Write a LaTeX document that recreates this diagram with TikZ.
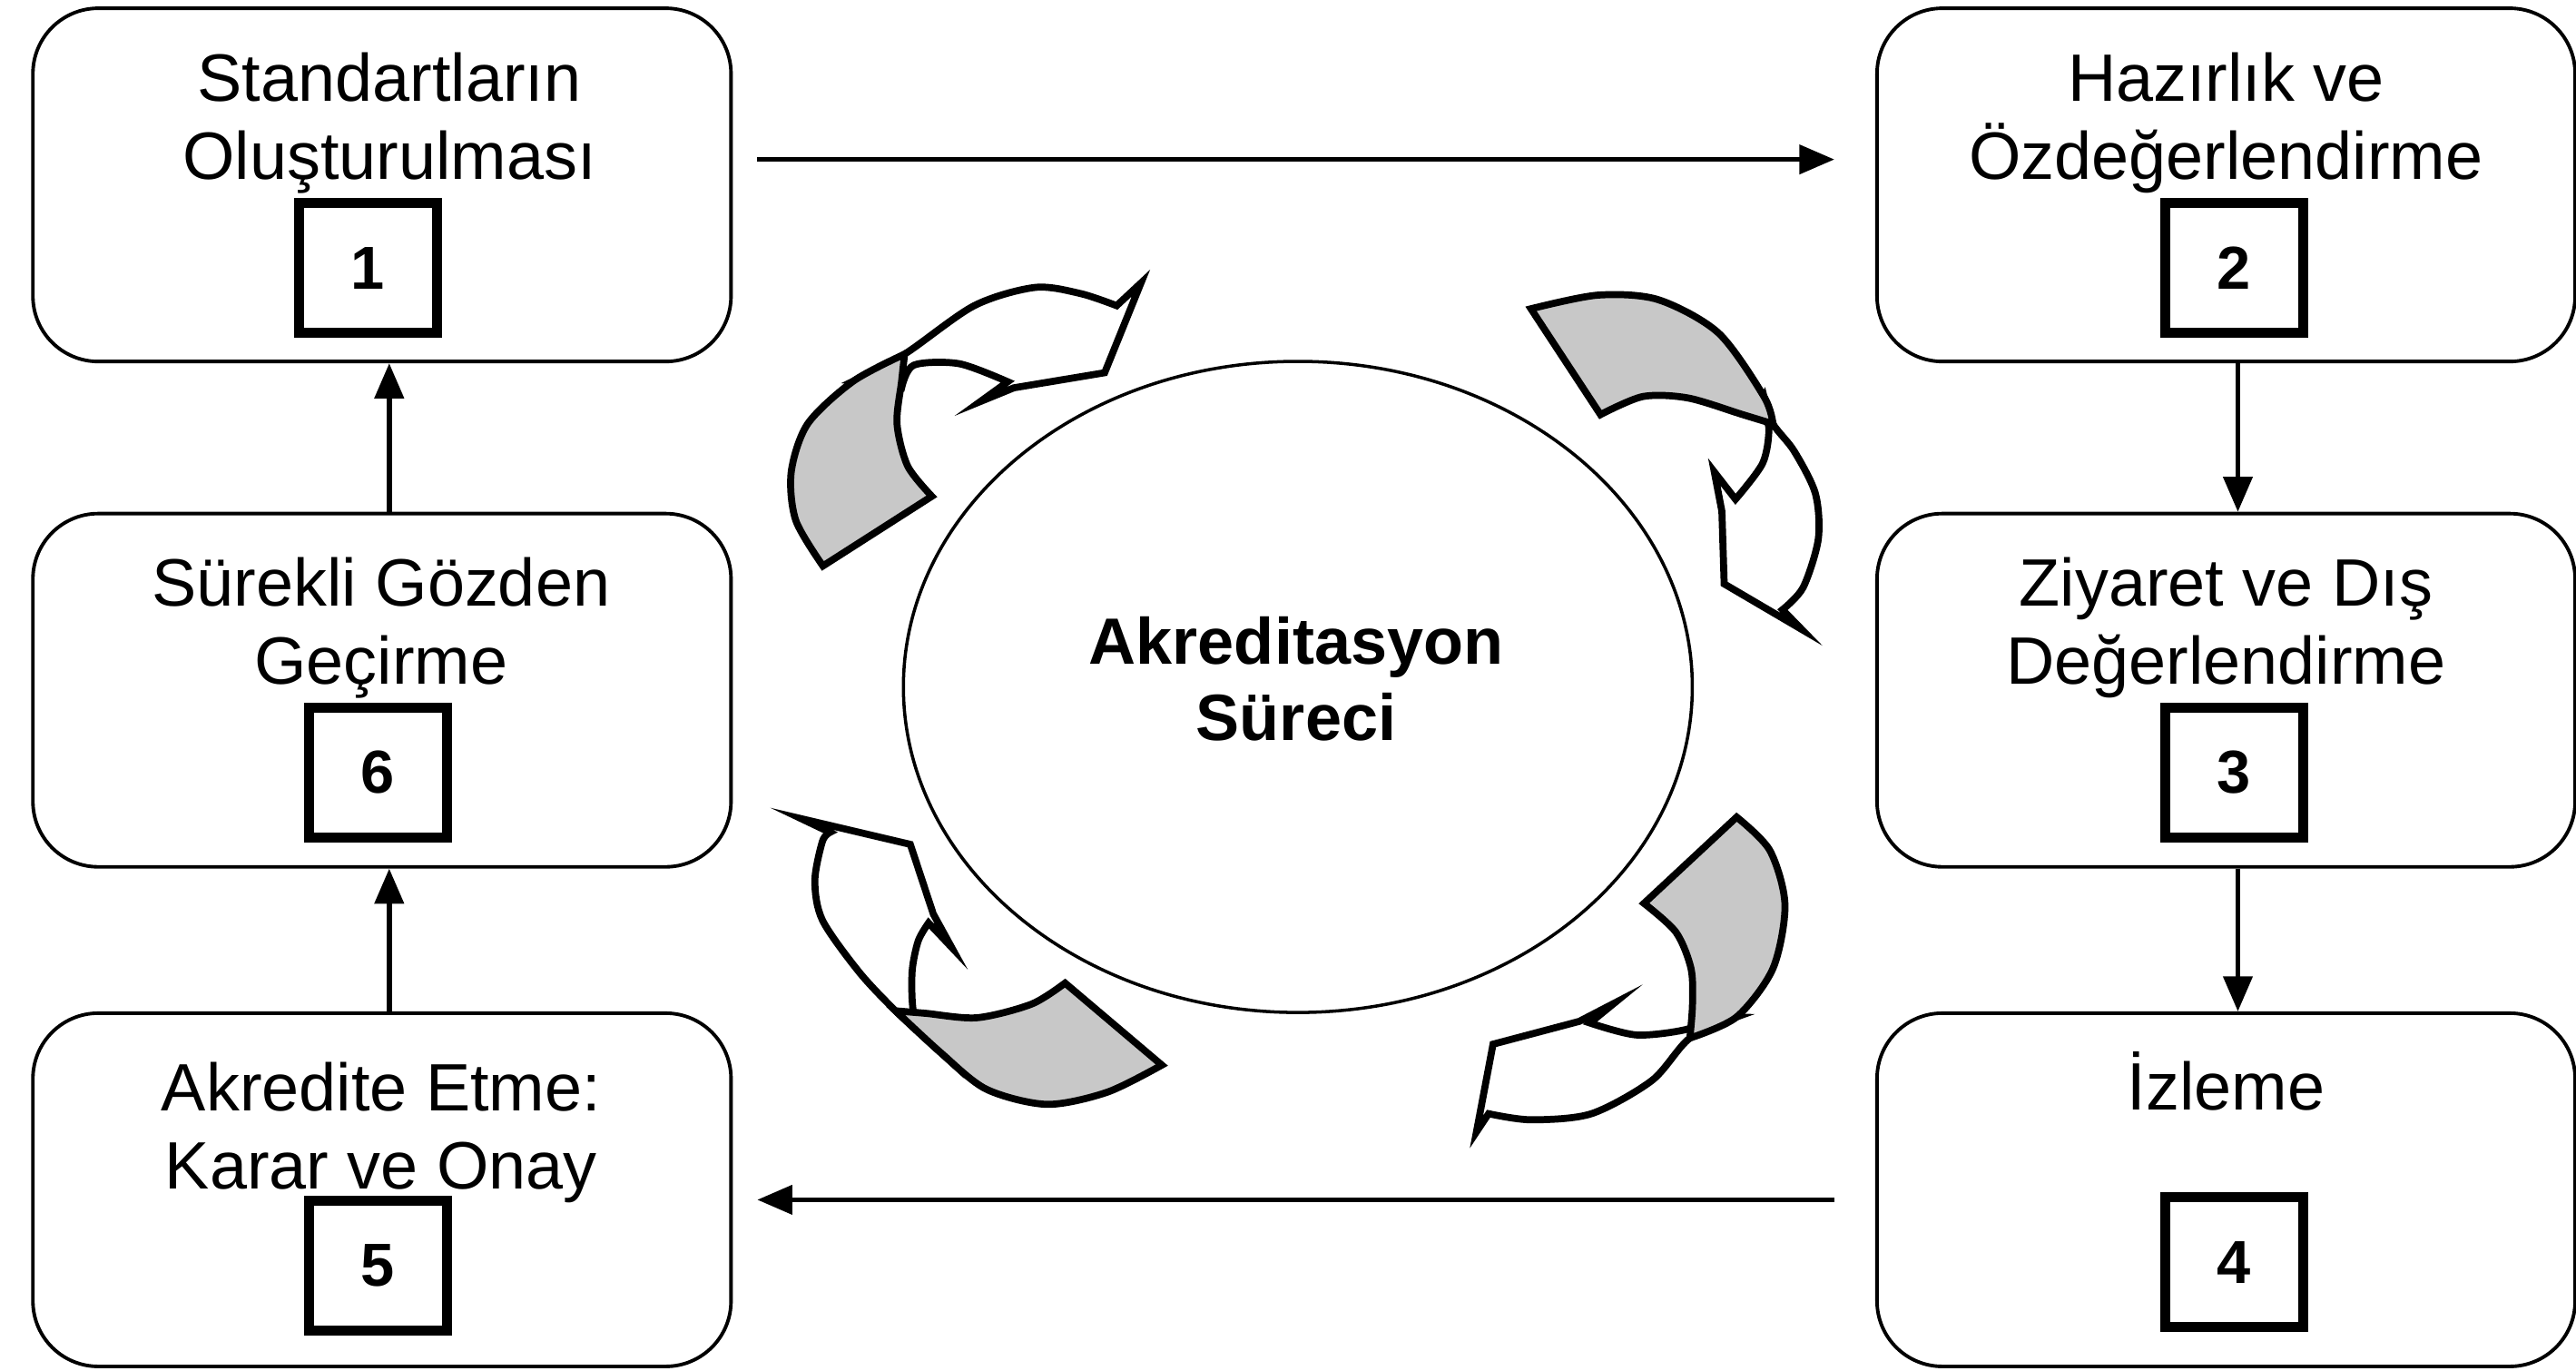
\documentclass[tikz,border=0pt]{standalone}
\usepackage{fontspec}
\setmainfont{Liberation Sans}
\usetikzlibrary{arrows.meta,shapes.geometric}
\definecolor{ribgray}{RGB}{200,200,200}
\begin{document}
\begin{tikzpicture}[x=0.0181cm,y=-0.0181cm,
  mainbox/.style={draw, line width=1.1pt, rounded corners=0.72cm, minimum width=7.69cm, minimum height=3.89cm, inner sep=0pt},
  numbox/.style={draw, line width=3.2pt, minimum width=1.52cm, minimum height=1.43cm, inner sep=0pt, font=\fontsize{19}{22}\selectfont\bfseries},
  lbl/.style={align=center, font=\fontsize{21}{24.5}\selectfont, inner sep=0pt},
  conn/.style={line width=1.6pt, -{Triangle[length=11pt,width=9pt]}},
  rib/.style={line width=2.2pt, line join=miter, miter limit=10},
  ribwhite/.style={rib, fill=white},
  ribback/.style={rib, fill=ribgray},
]
\useasboundingbox (0,0) rectangle (1568,834);

% main boxes
\node[mainbox] (b1) at (232.5,112.5) {};
\node[mainbox] (b2) at (1355,112.5) {};
\node[mainbox] (b6) at (232.5,420) {};
\node[mainbox] (b3) at (1355,420) {};
\node[mainbox] (b5) at (232.5,724) {};
\node[mainbox] (b4) at (1355,724) {};

% labels
\node[lbl] (t1) at (237,75) {Standartların\\Oluşturulması};
\node[lbl] (t2) at (1355,75) {Hazırlık ve\\Özdeğerlendirme};
\node[lbl] (t6) at (232,382) {Sürekli Gözden\\Geçirme};
\node[lbl] (t3) at (1355,382) {Ziyaret ve Dış\\Değerlendirme};
\node[lbl] (t5) at (232,689) {Akredite Etme:\\Karar ve Onay};
\node[lbl] (t4) at (1355,658) {İzleme};

% number boxes
\node[numbox] (n1) at (224,163) {1};
\node[numbox] (n2) at (1360,163) {2};
\node[numbox] (n6) at (230,470) {6};
\node[numbox] (n3) at (1360,470) {3};
\node[numbox] (n5) at (230,770) {5};
\node[numbox] (n4) at (1360,768) {4};

% connectors
\draw[conn, shorten <=0.27cm, shorten >=0.45cm] ([yshift=0.28cm]b1.east) -- ([yshift=0.28cm]b2.west);
\draw[conn, shorten <=0.45cm, shorten >=0.27cm] ([yshift=-0.11cm]b4.west) -- ([yshift=-0.11cm]b5.east);
\draw[conn] ([xshift=0.13cm]b2.south) -- ([xshift=0.13cm]b3.north);
\draw[conn] ([xshift=0.13cm]b3.south) -- ([xshift=0.13cm]b4.north);
\draw[conn] ([xshift=0.08cm]b5.north) -- ([xshift=0.08cm]b6.south);
\draw[conn] ([xshift=0.08cm]b6.north) -- ([xshift=0.08cm]b1.south);

% central ellipse
\node[draw, ellipse, line width=1pt, minimum width=8.69cm, minimum height=7.17cm, inner sep=0pt] (ell) at (790,418) {};
\node[align=center, inner sep=0pt, font=\fontsize{20.5}{24}\selectfont\bfseries] (et) at (789,413) {Akreditasyon\\Süreci};

% ---- top-left cycle arrow
\filldraw[ribwhite] (519.3,232.0) -- plot[smooth] coordinates {(519.3,232.0) (550.6,215.5) (593.0,186.0) (630.0,174.9) (657.6,178.6) (679.7,186.0)}
  -- (694.5,172.2) -- (672.4,226.8) -- (617.1,236.0) -- (596.8,244.3)
  -- plot[smooth] coordinates {(613.4,232.3) (583.8,221.3) (556.2,222.2) (548.8,236.0)} -- cycle;
\filldraw[ribback] (550.6,215.5) -- plot[smooth] coordinates {(550.6,215.5) (519.3,232.0) (491.7,257.8) (481.6,287.3) (484.4,316.7) (500.9,344.4)}
  -- (567.2,302.0) -- plot[smooth] coordinates {(567.2,302.0) (552.5,283.6) (546.0,257.8) (548.8,232.0) (550.6,215.5)} -- cycle;

% ---- top-right cycle arrow
\filldraw[ribwhite] (1073.7,241.3) -- plot[smooth] coordinates {(1073.7,241.3) (1079.2,257.9) (1092.1,274.5) (1105.0,300.3) (1106.8,327.9) (1097.6,357.4) (1085.0,371.0)}
  -- (1096.7,383.0) -- (1049.5,355.3) -- (1048.1,311.1) -- (1043.5,287.2)
  -- plot[smooth] coordinates {(1056.4,303.8) (1073.0,281.7) (1076.6,259.6) (1070.0,248.0)} -- cycle;
\filldraw[ribback] (931.9,187.9) -- plot[smooth] coordinates {(931.9,187.9) (972.4,179.6) (1009.2,182.3) (1046.0,202.6) (1073.7,241.3) (1079.2,257.9)}
  -- plot[smooth] coordinates {(1079.2,257.9) (1060.8,252.3) (1027.6,242.2) (1000.0,241.3) (974.2,252.3)} -- cycle;

% ---- bottom-right cycle arrow
\filldraw[ribwhite] (1057.1,618.8) -- plot[smooth] coordinates {(1057.1,618.8) (1028.6,631.7) (1005.5,657.5) (968.7,677.7) (931.9,681.4) (906.1,677.7)}
  -- (898.7,688.8) -- (908.8,635.4) -- (961.3,621.5) -- (982.5,610.5) -- (967.8,622.5)
  -- plot[smooth] coordinates {(967.8,622.5) (996.3,629.8) (1027.6,626.1) (1036.0,618.0)} -- cycle;
\filldraw[ribback] (1057.1,497.2) -- plot[smooth] coordinates {(1057.1,497.2) (1077.3,517.5) (1086.5,550.6) (1079.2,589.3) (1057.1,618.8) (1028.6,631.7)}
  -- plot[smooth] coordinates {(1028.6,631.7) (1030.2,611.4) (1029.3,589.3) (1020.1,567.2) (1000.7,549.7)} -- cycle;

% ---- bottom-left cycle arrow
\filldraw[ribwhite] (572.8,640.7) -- plot[smooth] coordinates {(572.8,640.7) (545.1,615.1) (522.7,591.2) (500.6,559.9) (496.0,536.0) (500.6,512.0) (505.2,506.5)}
  -- (487.8,498.2) -- (554.1,513.8) -- (568.1,556.2) -- (579.2,576.4) -- (565.2,561.6)
  -- plot[smooth] coordinates {(565.2,561.6) (558.9,572.6) (555.2,591.2) (555.9,615.1) (562.0,626.0)} -- cycle;
\filldraw[ribback] (545.1,615.1) -- plot[smooth] coordinates {(545.1,615.1) (572.8,640.7) (600.4,662.8) (637.2,672.0) (674.0,664.6) (707.2,648.1)}
  -- (648.3,598.2) -- plot[smooth] coordinates {(648.3,598.2) (627.9,611.0) (594.7,619.3) (563.4,616.6) (545.1,615.1)} -- cycle;
\end{tikzpicture}
\end{document}
